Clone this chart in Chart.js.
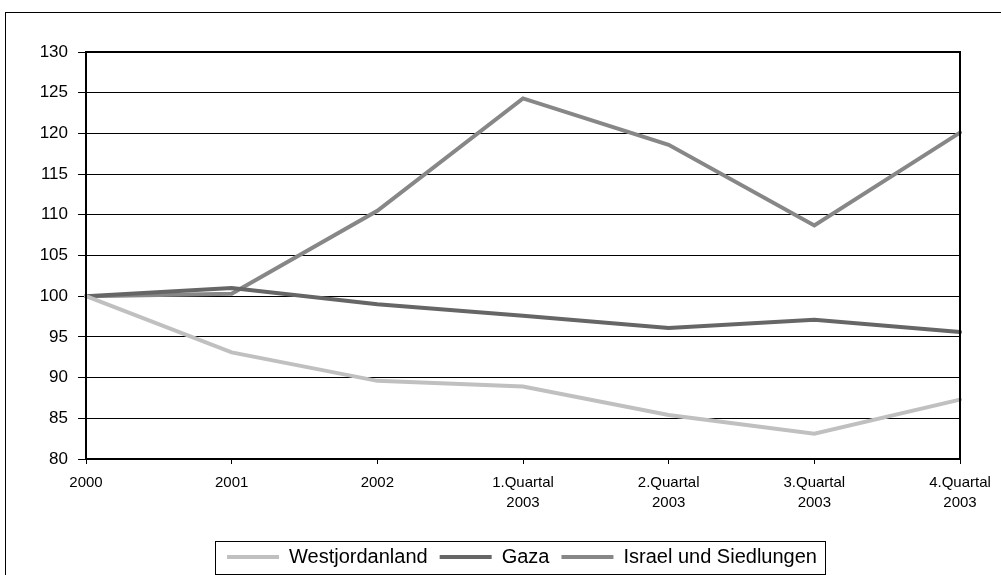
<!DOCTYPE html>
<html lang="de">
<head>
  <meta charset="UTF-8" />
  <title>Index 2000 = 100</title>
  <script src="https://cdn.jsdelivr.net/npm/chart.js"></script>
  <style>
    html, body { margin: 0; padding: 0; background: #fff; }
    canvas { display: block; }
  </style>
</head>
<body>
  <canvas id="chart" width="1001" height="575"></canvas>
  <script>
    const labels = ["2000", "2001", "2002", ["1.Quartal", "2003"], ["2.Quartal", "2003"], ["3.Quartal", "2003"], ["4.Quartal", "2003"]];
    const westjordanland = [100, 93.1, 89.6, 88.9, 85.4, 83.1, 87.3];
    const gaza = [100, 101.0, 99.0, 97.6, 96.1, 97.1, 95.6];
    const israel = [100, 100.3, 110.5, 124.3, 118.6, 108.7, 120.1];

    const font = "Arial, 'Liberation Sans', sans-serif";

    // Legende: feste Höhe, Mitte wie im Original leicht nach rechts
    const legendBox = {
      id: "legendBox",
      afterInit(chart) {
        const lg = chart.legend;
        const fit = lg.fit.bind(lg);
        lg.fit = function () { fit(); this.height = 34; };
      },
      afterLayout(chart) {
        const lg = chart.legend;
        lg.left += 42;
        lg.right += 42;
        lg.top -= 6;
        lg.bottom -= 6;
      },
      afterDraw(chart) {
        const ctx = chart.ctx;
        const a = chart.chartArea;
        const lg = chart.legend;
        ctx.save();
        ctx.strokeStyle = "#000";
        ctx.lineWidth = 1;
        ctx.strokeRect(5.5, 12.5, 1000, 570);
        ctx.lineWidth = 2;
        ctx.strokeRect(a.left, a.top, a.right - a.left, a.bottom - a.top);
        const w = lg.lineWidths[0];
        const cx = (lg.left + lg.right) / 2;
        const l = Math.round(cx - w / 2) - 6;
        const r = Math.round(cx + w / 2) + 2;
        ctx.lineWidth = 1;
        ctx.strokeRect(l + 0.5, Math.round(lg.top) + 6.5, r - l, 33);
        ctx.restore();
      }
    };

    function line(label, data, color) {
      return {
        label: label,
        data: data,
        borderColor: color,
        backgroundColor: color,
        borderWidth: 4,
        borderCapStyle: "round",
        pointRadius: 0,
        pointStyle: "line",
        tension: 0,
        fill: false
      };
    }

    new Chart(document.getElementById("chart"), {
      type: "line",
      data: {
        labels: labels,
        datasets: [
          line("Westjordanland", westjordanland, "#c0c0c0"),
          line("Gaza", gaza, "#666666"),
          line("Israel und Siedlungen", israel, "#878787")
        ]
      },
      plugins: [legendBox],
      options: {
        responsive: false,
        animation: false,
        layout: { padding: { top: 52, right: 41, left: 0, bottom: 0 } },
        scales: {
          x: {
            offset: false,
            grid: { drawOnChartArea: false, drawTicks: true, tickLength: 5, color: "#000" },
            border: { display: false },
            ticks: { color: "#000", font: { family: font, size: 15, lineHeight: 1.34 }, maxRotation: 0, autoSkip: false, padding: 9 },
            afterFit(s) { s.height = 82; }
          },
          y: {
            min: 80,
            max: 130,
            grid: { color: "#000", lineWidth: 1, tickLength: 8 },
            border: { display: false },
            ticks: { stepSize: 5, color: "#000", font: { family: font, size: 17 }, padding: 10 },
            afterFit(s) { s.width = 86; }
          }
        },
        plugins: {
          legend: {
            position: "bottom",
            labels: {
              color: "#000",
              font: { family: font, size: 20 },
              usePointStyle: true,
              pointStyleWidth: 52,
              boxHeight: 20,
              padding: 12
            }
          },
          tooltip: { enabled: false }
        }
      }
    });
  </script>
</body>
</html>
